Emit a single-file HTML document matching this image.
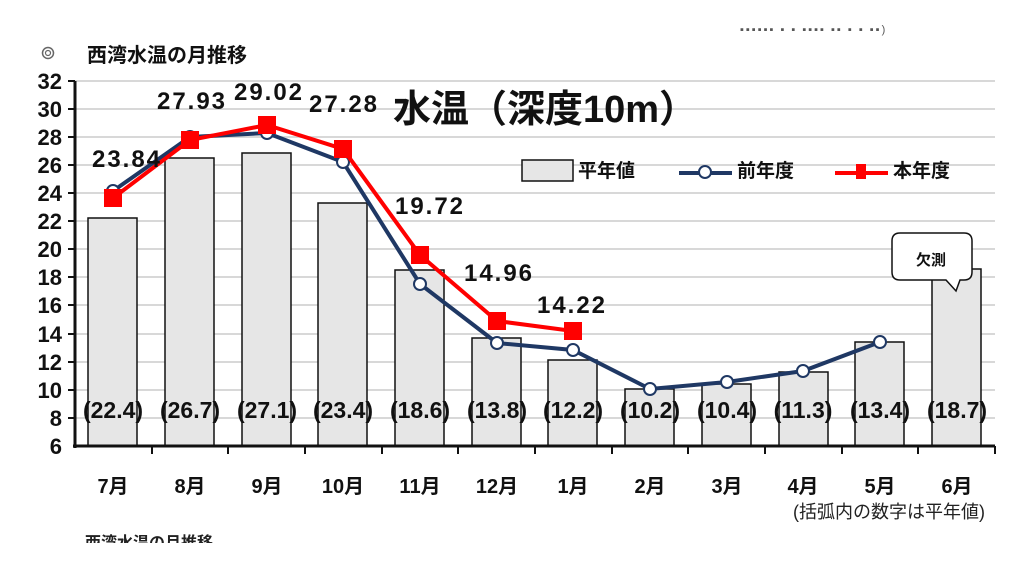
<!DOCTYPE html>
<html><head><meta charset="utf-8"><style>
html,body{margin:0;padding:0;background:#fff;}
svg{display:block;font-family:"Liberation Sans","Noto Sans CJK JP",sans-serif;}
</style></head><body>
<svg width="1024" height="576" viewBox="0 0 1024 576">
<rect width="1024" height="576" fill="#fff"/>
<text x="740" y="33" font-size="11" fill="#555" letter-spacing="2">▪▪▪▪▪▪  ▪  ▪  ▪▪▪▪  ▪▪   ▪   ▪ ▪▪)</text>
<circle cx="48" cy="53" r="5.5" fill="none" stroke="#666" stroke-width="1.5"/>
<circle cx="48" cy="53" r="2.5" fill="none" stroke="#666" stroke-width="1.2"/>
<text x="87" y="62" font-size="20" font-weight="bold" fill="#111">西湾水温の月推移</text>
<g stroke="#d8d8d8" stroke-width="2">
<line x1="75" y1="81" x2="995" y2="81"/><line x1="75" y1="109" x2="995" y2="109"/>
<line x1="75" y1="137" x2="995" y2="137"/><line x1="75" y1="165" x2="995" y2="165"/>
<line x1="75" y1="193" x2="995" y2="193"/><line x1="75" y1="221" x2="995" y2="221"/>
<line x1="75" y1="249" x2="995" y2="249"/><line x1="75" y1="277" x2="995" y2="277"/>
<line x1="75" y1="305" x2="995" y2="305"/><line x1="75" y1="334" x2="995" y2="334"/>
<line x1="75" y1="362" x2="995" y2="362"/><line x1="75" y1="390" x2="995" y2="390"/>
<line x1="75" y1="418" x2="995" y2="418"/>
</g>
<g font-size="22" font-weight="bold" fill="#111" text-anchor="end">
<text x="62" y="89">32</text><text x="62" y="117">30</text><text x="62" y="145">28</text>
<text x="62" y="173">26</text><text x="62" y="201">24</text><text x="62" y="229">22</text>
<text x="62" y="257">20</text><text x="62" y="285">18</text><text x="62" y="313">16</text>
<text x="62" y="342">14</text><text x="62" y="370">12</text><text x="62" y="398">10</text>
<text x="62" y="426">8</text><text x="62" y="454">6</text>
</g>
<g fill="#e6e6e6" stroke="#111" stroke-width="1.5">
<rect x="88" y="218" width="49" height="228"/>
<rect x="165" y="158" width="49" height="288"/>
<rect x="242" y="153" width="49" height="293"/>
<rect x="318" y="203" width="49" height="243"/>
<rect x="395" y="270" width="49" height="176"/>
<rect x="472" y="338" width="49" height="108"/>
<rect x="548" y="360" width="49" height="86"/>
<rect x="625" y="389" width="49" height="57"/>
<rect x="702" y="384" width="49" height="62"/>
<rect x="779" y="372" width="49" height="74"/>
<rect x="855" y="342" width="49" height="104"/>
<rect x="932" y="269" width="49" height="177"/>
</g>
<g stroke="#111" stroke-width="3">
<line x1="75" y1="81" x2="75" y2="448"/>
<line x1="73" y1="446" x2="995" y2="446"/>
</g>
<g stroke="#111" stroke-width="2">
<line x1="68" y1="81" x2="75" y2="81"/><line x1="68" y1="109" x2="75" y2="109"/><line x1="68" y1="137" x2="75" y2="137"/><line x1="68" y1="165" x2="75" y2="165"/><line x1="68" y1="193" x2="75" y2="193"/><line x1="68" y1="221" x2="75" y2="221"/><line x1="68" y1="249" x2="75" y2="249"/><line x1="68" y1="277" x2="75" y2="277"/><line x1="68" y1="305" x2="75" y2="305"/><line x1="68" y1="334" x2="75" y2="334"/><line x1="68" y1="362" x2="75" y2="362"/><line x1="68" y1="390" x2="75" y2="390"/><line x1="68" y1="418" x2="75" y2="418"/>
<line x1="152" y1="446" x2="152" y2="454"/><line x1="228" y1="446" x2="228" y2="454"/><line x1="305" y1="446" x2="305" y2="454"/><line x1="382" y1="446" x2="382" y2="454"/><line x1="458" y1="446" x2="458" y2="454"/><line x1="535" y1="446" x2="535" y2="454"/><line x1="612" y1="446" x2="612" y2="454"/><line x1="688" y1="446" x2="688" y2="454"/><line x1="765" y1="446" x2="765" y2="454"/><line x1="842" y1="446" x2="842" y2="454"/><line x1="918" y1="446" x2="918" y2="454"/><line x1="995" y1="446" x2="995" y2="454"/>
</g>
<g font-size="20" font-weight="bold" fill="#111" text-anchor="middle">
<text x="113" y="493">7月</text><text x="190" y="493">8月</text><text x="267" y="493">9月</text>
<text x="343" y="493">10月</text><text x="420" y="493">11月</text><text x="497" y="493">12月</text>
<text x="573" y="493">1月</text><text x="650" y="493">2月</text><text x="727" y="493">3月</text>
<text x="803" y="493">4月</text><text x="880" y="493">5月</text><text x="957" y="493">6月</text>
</g>
<text x="985" y="518" font-size="18" fill="#222" text-anchor="end">(括弧内の数字は平年値)</text>
<text x="85" y="548" font-size="16" font-weight="bold" fill="#222">西湾水温の月推移</text>
<rect x="60" y="543" width="964" height="33" fill="#fff"/>
<g font-size="23" font-weight="bold" fill="#111" text-anchor="middle">
<text x="113" y="418">(22.4)</text><text x="190" y="418">(26.7)</text><text x="267" y="418">(27.1)</text>
<text x="343" y="418">(23.4)</text><text x="420" y="418">(18.6)</text><text x="497" y="418">(13.8)</text>
<text x="573" y="418">(12.2)</text><text x="650" y="418">(10.2)</text><text x="727" y="418">(10.4)</text>
<text x="803" y="418">(11.3)</text><text x="880" y="418">(13.4)</text><text x="957" y="418">(18.7)</text>
</g>
<polyline fill="none" stroke="#1f3864" stroke-width="4" points="113,191 190,137 267,133 343,162 420,284 497,343 573,350 650,389 727,382 803,371 880,342"/>
<g fill="#fff" stroke="#1f3864" stroke-width="2">
<circle cx="113" cy="191" r="6"/><circle cx="190" cy="137" r="6"/><circle cx="267" cy="133" r="6"/><circle cx="343" cy="162" r="6"/><circle cx="420" cy="284" r="6"/><circle cx="497" cy="343" r="6"/><circle cx="573" cy="350" r="6"/><circle cx="650" cy="389" r="6"/><circle cx="727" cy="382" r="6"/><circle cx="803" cy="371" r="6"/><circle cx="880" cy="342" r="6"/>
</g>
<polyline fill="none" stroke="#ff0000" stroke-width="4" points="113,198 190,140 267,125 343,149 420,255 497,321 573,331"/>
<g fill="#ff0000">
<rect x="104" y="189" width="18" height="18"/><rect x="181" y="131" width="18" height="18"/><rect x="258" y="116" width="18" height="18"/><rect x="334" y="140" width="18" height="18"/><rect x="411" y="246" width="18" height="18"/><rect x="488" y="312" width="18" height="18"/><rect x="564" y="322" width="18" height="18"/>
</g>
<g font-size="24" font-weight="bold" fill="#111" text-anchor="middle" letter-spacing="2">
<text x="127" y="167">23.84</text><text x="192" y="109">27.93</text><text x="269" y="100">29.02</text>
<text x="344" y="112">27.28</text><text x="430" y="214">19.72</text><text x="499" y="281">14.96</text>
<text x="572" y="313">14.22</text>
</g>
<text x="393" y="122" font-size="38" font-weight="bold" fill="#111">水温（深度10m）</text>
<rect x="522" y="160" width="51" height="21" fill="#e6e6e6" stroke="#111" stroke-width="1.5"/>
<text x="578" y="177" font-size="19" font-weight="bold" fill="#111">平年値</text>
<line x1="679" y1="173" x2="732" y2="173" stroke="#1f3864" stroke-width="4"/>
<circle cx="705" cy="172" r="6" fill="#fff" stroke="#1f3864" stroke-width="2"/>
<text x="737" y="177" font-size="19" font-weight="bold" fill="#111">前年度</text>
<line x1="835" y1="173" x2="888" y2="173" stroke="#ff0000" stroke-width="4"/>
<rect x="856" y="164" width="10" height="15" fill="#ff0000"/>
<text x="893" y="177" font-size="19" font-weight="bold" fill="#111">本年度</text>
<path d="M900,233 H964 Q972,233 972,241 V272 Q972,280 964,280 H960 L956,291 L946,280 H900 Q892,280 892,272 V241 Q892,233 900,233 Z" fill="#fff" stroke="#111" stroke-width="1.5"/>
<text x="931" y="265" font-size="15" font-weight="bold" fill="#111" text-anchor="middle">欠測</text>
</svg>
</body></html>
